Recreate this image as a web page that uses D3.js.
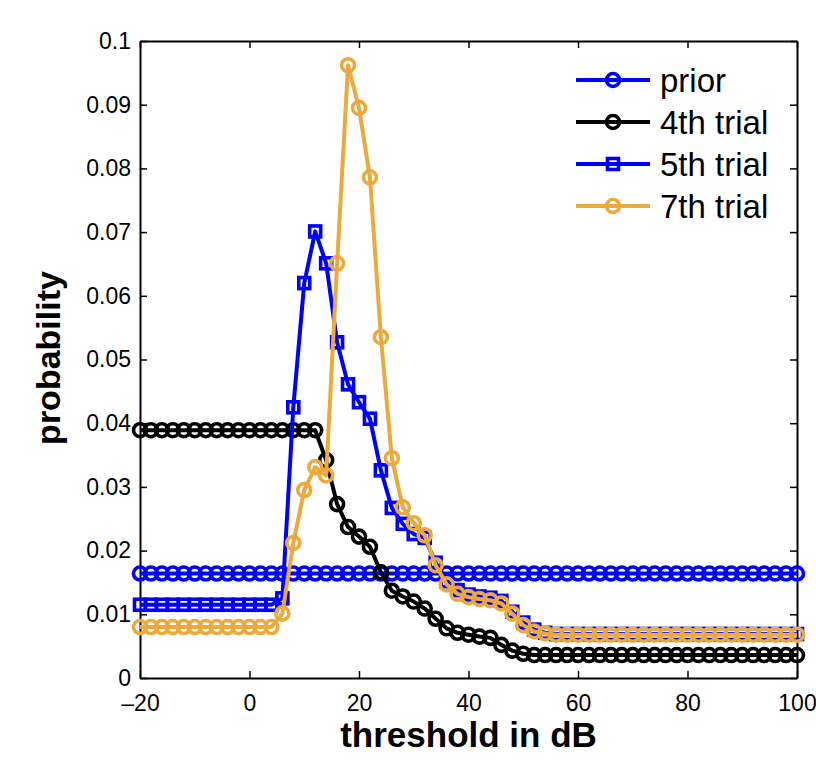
<!DOCTYPE html>
<html><head><meta charset="utf-8">
<script src="https://cdn.jsdelivr.net/npm/d3@7"></script>
<style>body{margin:0;background:#fff}svg{display:block}text{font-family:"Liberation Sans",Arial,Helvetica,sans-serif}</style>
</head><body>
<script>
const thresholds = [-20,-18,-16,-14,-12,-10,-8,-6,-4,-2,0,2,4,6,8,10,12,14,16,18,20,22,24,26,28,30,32,34,36,38,40,42,44,46,48,50,52,54,56,58,60,62,64,66,68,70,72,74,76,78,80,82,84,86,88,90,92,94,96,98,100];
const prior = [0.0164,0.0164,0.0164,0.0164,0.0164,0.0164,0.0164,0.0164,0.0164,0.0164,0.0164,0.0164,0.0164,0.0164,0.0164,0.0164,0.0164,0.0164,0.0164,0.0164,0.0164,0.0164,0.0164,0.0164,0.0164,0.0164,0.0164,0.0164,0.0164,0.0164,0.0164,0.0164,0.0164,0.0164,0.0164,0.0164,0.0164,0.0164,0.0164,0.0164,0.0164,0.0164,0.0164,0.0164,0.0164,0.0164,0.0164,0.0164,0.0164,0.0164,0.0164,0.0164,0.0164,0.0164,0.0164,0.0164,0.0164,0.0164,0.0164,0.0164,0.0164];
const trial4 = [0.0389,0.0389,0.0389,0.0389,0.0389,0.0389,0.0389,0.0389,0.0389,0.0389,0.0389,0.0389,0.0389,0.0389,0.0389,0.0389,0.0389,
  0.0342,0.0273,0.0237,0.0222,0.0206,0.0166,0.0137,0.0128,0.0120,0.0109,0.0093,0.0078,0.0071,0.0068,0.0065,0.0063,0.0052,0.0043,0.0038,
  0.0036,0.0036,0.0036,0.0036,0.0036,0.0036,0.0036,0.0036,0.0036,0.0036,0.0036,0.0036,0.0036,0.0036,0.0036,0.0036,0.0036,0.0036,0.0036,0.0036,0.0036,0.0036,0.0036,0.0036,0.0036];
const trial5 = [0.0115,0.0115,0.0115,0.0115,0.0115,0.0115,0.0115,0.0115,0.0115,0.0115,0.0115,0.0115,0.0115,
  0.0125,0.0425,0.0620,0.0701,0.0651,0.0527,0.0461,0.0433,0.0407,0.0326,0.0267,0.0242,0.0226,0.0220,0.0181,0.0152,0.0138,0.0131,0.0128,0.0126,0.0121,0.0104,0.0087,0.0076,0.0071,
  0.0069,0.0069,0.0069,0.0069,0.0069,0.0069,0.0069,0.0069,0.0069,0.0069,0.0069,0.0069,0.0069,0.0069,0.0069,0.0069,0.0069,0.0069,0.0069,0.0069,0.0069,0.0069,0.0069];
const trial7 = [0.0080,0.0080,0.0080,0.0080,0.0080,0.0080,0.0080,0.0080,0.0080,0.0080,0.0080,0.0080,0.0080,
  0.0101,0.0212,0.0295,0.0331,0.0318,0.0651,0.0962,0.0895,0.0786,0.0535,0.0345,0.0268,0.0243,0.0224,0.0177,0.0147,0.0132,0.0127,0.0124,0.0122,0.0117,0.0101,0.0083,0.0073,0.0070,
  0.0068,0.0068,0.0068,0.0068,0.0068,0.0068,0.0068,0.0068,0.0068,0.0068,0.0068,0.0068,0.0068,0.0068,0.0068,0.0068,0.0068,0.0068,0.0068,0.0068,0.0068,0.0068,0.0068];
const seriesNames = ["prior","4th trial","5th trial","7th trial"];
const seriesColors = ["#0000FF","#000000","#0000FF","#EDA93C"];
const seriesMarkers = ["circle","circle","square","circle"];
const xTicks = [-20,0,20,40,60,80,100];
const xTickLabels = ["\u201320","0","20","40","60","80","100"];
const yTicks = [0,0.01,0.02,0.03,0.04,0.05,0.06,0.07,0.08,0.09,0.1];
const yTickLabels = ["0","0.01","0.02","0.03","0.04","0.05","0.06","0.07","0.08","0.09","0.1"];
const xLabel = "threshold in dB", yLabel = "probability";

const W = 816, H = 761;
const m = {left:140, top:41, right:19, bottom:83};
const svg = d3.select("body").append("svg").attr("width",W).attr("height",H);
const x = d3.scaleLinear().domain([-20,100]).range([m.left, W-m.right]);
const y = d3.scaleLinear().domain([0,0.1]).range([H-m.bottom, m.top]);
const allSeries = [prior, trial4, trial5, trial7];

const tickLen = 7;
const xAxis = svg.append("g").attr("transform",`translate(0,${H-m.bottom})`)
  .call(d3.axisBottom(x).tickValues(xTicks).tickFormat((d,i)=>xTickLabels[i]).tickSizeInner(-tickLen).tickSizeOuter(0).tickPadding(17));
const yAxis = svg.append("g").attr("transform",`translate(${m.left},0)`)
  .call(d3.axisLeft(y).tickValues(yTicks).tickFormat((d,i)=>yTickLabels[i]).tickSizeInner(-tickLen).tickSizeOuter(0).tickPadding(9));
const xTop = svg.append("g").attr("transform",`translate(0,${m.top})`)
  .call(d3.axisTop(x).tickValues(xTicks).tickFormat("").tickSizeInner(-tickLen).tickSizeOuter(0));
const yRight = svg.append("g").attr("transform",`translate(${W-m.right},0)`)
  .call(d3.axisRight(y).tickValues(yTicks).tickFormat("").tickSizeInner(-tickLen).tickSizeOuter(0));
[xAxis,yAxis,xTop,yRight].forEach(g=>{
  g.select(".domain").attr("stroke","#000").attr("stroke-width",2);
  g.selectAll(".tick line").attr("stroke","#000").attr("stroke-width",1.5);
  g.selectAll("text").attr("fill","#000").style("font-size","23px");
});

const line = d3.line().x((d,i)=>x(thresholds[i])).y(d=>y(d));
function drawMarker(g, type, cx, cy, color){
  if(type==="circle"){
    g.append("circle").attr("cx",cx).attr("cy",cy).attr("r",6.5)
      .attr("fill","none").attr("stroke",color).attr("stroke-width",3.6);
  } else {
    const s=11;
    g.append("rect").attr("x",cx-s/2).attr("y",cy-s/2).attr("width",s).attr("height",s)
      .attr("fill","none").attr("stroke",color).attr("stroke-width",3.6);
  }
}
allSeries.forEach((vals,k)=>{
  const g = svg.append("g");
  g.append("path").datum(vals).attr("d",line).attr("fill","none")
    .attr("stroke",seriesColors[k]).attr("stroke-width",4).attr("stroke-linejoin","round");
  vals.forEach((v,i)=>drawMarker(g, seriesMarkers[k], x(thresholds[i]), y(v), seriesColors[k]));
});

const lg = svg.append("g");
const legY = [80,122,164,206];
seriesNames.forEach((name,k)=>{
  const yy = legY[k];
  lg.append("line").attr("x1",576).attr("x2",650).attr("y1",yy).attr("y2",yy)
    .attr("stroke",seriesColors[k]).attr("stroke-width",4);
  drawMarker(lg, seriesMarkers[k], 613, yy, seriesColors[k]);
  lg.append("text").attr("x",660).attr("y",yy).attr("dy","0.36em")
    .style("font-size","33px").attr("fill","#000").text(name);
});

svg.append("text").attr("x",(m.left+W-m.right)/2).attr("y",747).attr("text-anchor","middle")
  .style("font-size","35px").style("font-weight","bold").attr("fill","#000").text(xLabel);
svg.append("text").attr("transform",`translate(60,358) rotate(-90)`).attr("text-anchor","middle")
  .style("font-size","34px").style("font-weight","bold").attr("fill","#000").text(yLabel);
</script>
</body></html>
